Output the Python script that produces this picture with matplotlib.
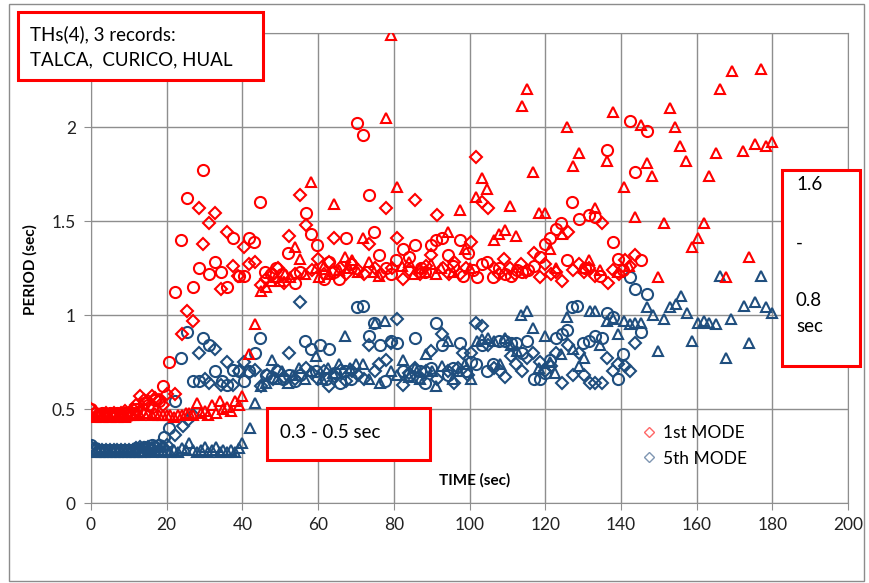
import matplotlib
matplotlib.use('Agg')
import matplotlib.pyplot as plt
from matplotlib.patches import Rectangle
from matplotlib.lines import Line2D
from matplotlib.ticker import FuncFormatter

plt.rcParams['font.family'] = ['Lato', 'DejaVu Sans']

RED = '#FF0000'
BLUE = '#1F4E7E'

# ---- datos: (tiempo [s], periodo [s]) ----
# 1er modo
red_diamond = [(0, 0.50), (1, 0.48), (2, 0.47), (3, 0.47), (4, 0.48), (5, 0.47), (6, 0.48), (7, 0.47),
               (8, 0.48), (9, 0.49), (10, 0.48), (11, 0.50), (12, 0.52), (13, 0.57), (14, 0.55), (15, 0.54),
               (16, 0.57), (17, 0.56), (18, 0.55), (19, 0.52), (20, 0.58), (22.2, 0.58), (24, 0.90),
               (25.4, 1.02), (27, 0.97), (28.5, 1.57), (29.6, 1.38), (31.2, 1.49), (32.8, 1.54), (34.3, 1.14),
               (35.9, 1.44), (37.5, 1.26), (38.8, 1.21), (40.4, 1.36), (41.7, 1.27), (43.3, 1.28), (44.9, 1.16),
               (46.2, 1.19), (48, 1.22), (49.5, 1.25), (51, 1.17), (52.3, 1.42), (53.8, 1.22), (55.2, 1.64),
               (56.8, 1.48), (58.4, 1.24), (60, 1.30), (61.5, 1.22), (62.9, 1.28), (64.2, 1.41), (65.8, 1.25),
               (67.4, 1.22), (69, 1.27), (70.5, 1.24), (72, 1.22), (73.4, 1.38), (75, 1.25), (76.5, 1.22),
               (77.9, 1.57), (79.4, 1.25), (80.8, 1.41), (82.4, 1.19), (84, 1.24), (85.5, 1.61), (87, 1.22),
               (88.4, 1.26), (89.8, 1.32), (91.4, 1.53), (93, 1.25), (94.5, 1.22), (96, 1.28), (97.5, 1.22),
               (99, 1.25), (100.4, 1.39), (101.8, 1.84), (103.3, 1.60), (104.9, 1.57), (106.4, 1.25),
               (107.8, 1.22), (109.1, 1.30), (110.6, 1.25), (112, 1.22), (113.5, 1.27), (115, 1.23),
               (117, 1.33), (118.6, 1.20), (120, 1.27), (121.5, 1.22), (122.9, 1.23), (124.4, 1.18),
               (126, 1.44), (127.3, 1.24), (128.9, 1.27), (130.2, 1.23), (131.7, 1.25), (133.2, 1.21),
               (135, 1.49), (136.5, 1.17), (138, 1.24), (139.5, 1.22), (141.1, 1.29), (142.5, 1.26), (143.7, 1.32)]

red_circle = [(0, 0.50), (1, 0.48), (2, 0.47), (3, 0.48), (4, 0.47), (5, 0.48), (6, 0.47), (7, 0.48),
              (8, 0.47), (9, 0.48), (10, 0.47), (11, 0.48), (12, 0.50), (13, 0.49), (14, 0.53), (15, 0.52),
              (16, 0.51), (17, 0.55), (18, 0.54), (19, 0.62), (20.6, 0.75), (22.2, 1.12), (23.8, 1.40),
              (25.4, 1.62), (27, 1.15), (28.5, 1.25), (29.6, 1.77), (31.2, 1.22), (32.8, 1.28), (34.3, 1.23),
              (35.9, 1.15), (37.5, 1.41), (39.1, 1.21), (40.4, 1.21), (41.7, 1.41), (43, 1.39), (44.7, 1.60),
              (46, 1.23), (47.5, 1.22), (49, 1.25), (50.5, 1.22), (52, 1.33), (53.9, 1.17), (55.2, 1.23),
              (56.8, 1.54), (58.1, 1.43), (59.7, 1.37), (61.6, 1.19), (62.9, 1.28), (64.2, 1.23), (65.5, 1.19),
              (67.4, 1.41), (68.8, 1.27), (70.3, 2.02), (71.9, 1.96), (73.4, 1.64), (74.8, 1.44), (76.1, 1.32),
              (77.9, 1.25), (79.3, 1.22), (80.6, 1.29), (82.4, 1.35), (84, 1.31), (85.6, 1.37), (87.2, 1.25),
              (88.2, 1.23), (89.8, 1.37), (91.2, 1.40), (92.7, 1.41), (94.3, 1.32), (95.7, 1.26), (97.5, 1.40),
              (98.3, 1.21), (99.5, 1.33), (100.8, 1.24), (102, 1.20), (103.3, 1.27), (104.6, 1.28),
              (106.2, 1.20), (107.8, 1.25), (109.4, 1.22), (111, 1.21), (112.5, 1.24), (113.9, 1.23),
              (115.5, 1.24), (117, 1.26), (118.6, 1.31), (119.9, 1.38), (121.3, 1.41), (122.9, 1.46),
              (124.2, 1.49), (125.8, 1.29), (127.2, 1.60), (128.9, 1.51), (130.4, 1.25), (131.6, 1.53),
              (133.2, 1.52), (134.5, 1.21), (136.3, 1.88), (137.9, 1.39), (139.2, 1.30), (140.6, 1.24),
              (142.4, 2.03), (143.7, 1.76), (145.3, 1.29), (146.9, 1.98)]

red_triangle = [(0, 0.47), (1, 0.46), (2, 0.47), (3, 0.46), (4, 0.47), (5, 0.46), (6, 0.47), (7, 0.46),
                (8, 0.47), (9, 0.46), (10, 0.47), (11, 0.47), (12, 0.48), (13, 0.47), (14, 0.48), (15, 0.48),
                (16, 0.47), (17, 0.48), (18, 0.47), (19, 0.47), (20, 0.47), (21, 0.47), (22, 0.46), (23, 0.47),
                (24, 0.47), (25, 0.48), (26, 0.48), (27, 0.47), (28, 0.53), (29, 0.48), (30, 0.49), (31, 0.47),
                (32, 0.52), (33, 0.48), (34, 0.54), (35, 0.50), (36, 0.51), (37, 0.49), (38, 0.54), (39, 0.52),
                (40, 0.57), (41.7, 0.79), (43.3, 0.95), (44.9, 1.13), (46.2, 1.15), (47.5, 1.18), (48.8, 1.20),
                (50, 1.18), (51.3, 1.22), (52.5, 1.20), (53.9, 1.36), (55.2, 1.30), (56.5, 1.22), (58.1, 1.71),
                (59.5, 1.25), (60.2, 1.20), (61.6, 1.26), (62.9, 1.22), (64.2, 1.59), (65.5, 1.24), (67, 1.31),
                (68.2, 1.25), (69, 1.29), (70.5, 1.23), (71.9, 1.41), (73.4, 1.28), (74.8, 1.23), (76.1, 1.21),
                (77.9, 2.05), (79.3, 2.49), (80.8, 1.68), (82.2, 1.26), (84, 1.28), (85.4, 1.22), (86.8, 1.25),
                (88.2, 1.23), (89.8, 1.27), (91.2, 1.22), (92.6, 1.25), (94.3, 1.44), (95.7, 1.23), (97.5, 1.56),
                (98.8, 1.35), (100.2, 1.25), (101.7, 1.63), (103.3, 1.73), (104.6, 1.67), (106.5, 1.40),
                (107.8, 1.43), (109.4, 1.45), (110.7, 1.58), (112.3, 1.42), (113.9, 2.11), (115.2, 2.20),
                (116.8, 1.76), (118.4, 1.54), (119.9, 1.54), (121.3, 1.35), (122.8, 1.25), (124.4, 1.43),
                (125.8, 2.00), (127.3, 1.79), (128.9, 1.86), (130.3, 1.25), (131.6, 1.29), (133.2, 1.57),
                (134.6, 1.24), (136.3, 1.82), (137.9, 2.08), (139.3, 1.23), (140.8, 1.68), (142.2, 1.26),
                (143.7, 1.52), (145.3, 2.01), (146.9, 1.81), (148.2, 1.74), (149.8, 1.20), (151.4, 1.49),
                (152.9, 2.10), (154.3, 2.00), (155.6, 1.90), (157.3, 1.82), (158.8, 1.36), (160.4, 1.41),
                (161.9, 1.49), (163.3, 1.74), (165.1, 1.86), (166.2, 2.20), (167.8, 1.20), (169.4, 2.30),
                (172.3, 1.87), (173.8, 1.31), (175.4, 1.91), (177, 2.31), (178.3, 1.90), (179.9, 1.92)]

# 5to modo
blue_diamond = [(0, 0.30), (1, 0.28), (2, 0.28), (3, 0.28), (4, 0.28), (5, 0.28), (6, 0.28), (7, 0.28),
                (8, 0.28), (9, 0.28), (10, 0.28), (11, 0.28), (12, 0.29), (13, 0.30), (14, 0.29), (15, 0.30),
                (16, 0.29), (17, 0.30), (18, 0.31), (19, 0.30), (20, 0.31), (22.2, 0.36), (24.3, 0.41),
                (25.6, 0.44), (27, 0.47), (28.5, 0.80), (30, 0.66), (31.2, 0.64), (32.8, 0.82), (34.3, 0.63),
                (35.9, 0.75), (37.5, 0.63), (39, 0.70), (40.4, 0.75), (41.7, 0.69), (43.3, 0.71), (44.9, 0.62),
                (46.5, 0.68), (48, 0.66), (49.5, 0.70), (51, 0.67), (52.3, 0.80), (53.8, 0.66), (55.2, 1.07),
                (56.8, 0.72), (58.4, 0.69), (60, 0.66), (61.5, 0.70), (62.9, 0.62), (64.5, 0.67), (66, 0.71),
                (67.5, 0.65), (69, 0.70), (70.5, 0.68), (72, 0.66), (73.4, 0.84), (75, 0.70), (76.1, 0.74),
                (77.9, 0.76), (79.3, 0.85), (80.8, 0.98), (82.4, 0.63), (84, 0.69), (85.6, 0.72), (87, 0.66),
                (88.5, 0.70), (89.8, 0.81), (91.4, 0.66), (92.7, 0.90), (94.3, 0.70), (95.8, 0.64), (97, 0.72),
                (98.3, 0.80), (99.7, 0.68), (100.4, 0.80), (101.7, 0.96), (103.3, 0.94), (104.9, 0.84),
                (106.4, 0.72), (108, 0.70), (109.4, 0.67), (111, 0.78), (112.3, 0.74), (113.8, 0.70),
                (115.2, 0.77), (116.8, 0.80), (118.6, 0.75), (120, 0.70), (121.5, 0.73), (122.9, 0.80),
                (124.4, 0.64), (126, 0.84), (127.3, 0.68), (128.9, 0.80), (130.2, 0.68), (131.8, 0.64),
                (133.2, 0.64), (135, 0.64), (136.3, 0.77), (137.8, 0.70), (139.2, 0.74), (141, 0.73),
                (142.4, 0.70), (143.7, 0.85)]

blue_circle = [(0, 0.31), (1, 0.29), (2, 0.28), (3, 0.28), (4, 0.28), (5, 0.28), (6, 0.28), (7, 0.28),
               (8, 0.28), (9, 0.28), (10, 0.28), (11, 0.28), (12, 0.29), (13, 0.28), (14, 0.30), (15, 0.29),
               (16, 0.31), (17, 0.30), (18, 0.31), (19.3, 0.35), (20.6, 0.40), (22.2, 0.54), (23.8, 0.77),
               (25.4, 0.91), (27, 0.65), (28.5, 0.65), (29.6, 0.88), (31.2, 0.84), (32.8, 0.70), (34.6, 0.65),
               (35.9, 0.63), (37.5, 0.71), (39.1, 0.70), (40.5, 0.65), (41.7, 0.70), (43.3, 0.80), (44.7, 0.88),
               (46.2, 0.68), (47.8, 0.67), (49.2, 0.70), (50.7, 0.66), (52.3, 0.68), (53.9, 0.65), (55.2, 0.68),
               (56.5, 0.86), (58, 0.82), (59.5, 0.70), (60.5, 0.84), (62, 0.66), (62.9, 0.82), (64.5, 0.69),
               (65.8, 0.64), (67.2, 0.70), (68.7, 0.66), (70.3, 1.04), (71.9, 1.05), (73.4, 0.89), (74.8, 0.96),
               (76.4, 0.84), (77.7, 0.65), (79.3, 0.86), (80.8, 0.85), (82.4, 0.70), (84, 0.68), (85.6, 0.88),
               (87, 0.70), (88.2, 0.64), (89.8, 0.72), (91.2, 0.96), (92.7, 0.84), (94.2, 0.68), (95.7, 0.72),
               (97.5, 0.85), (99, 0.70), (100.4, 0.75), (101.7, 0.74), (103.2, 0.84), (104.6, 0.70),
               (106.2, 0.74), (107.8, 0.86), (109.4, 0.86), (110.9, 0.85), (112.3, 0.85), (113.8, 0.80),
               (115.2, 0.86), (117, 0.66), (118.5, 0.66), (119.9, 0.69), (121.3, 0.76), (122.9, 0.88),
               (124.4, 0.90), (125.8, 0.92), (127, 1.04), (128.4, 1.05), (130, 0.85), (131.6, 0.86),
               (133.2, 0.89), (135, 0.88), (136.3, 1.01), (137.9, 0.99), (139.2, 0.66), (140.6, 0.79),
               (142.4, 1.20), (143.7, 1.14), (145.3, 0.91), (146.9, 1.11)]

blue_triangle = [(0, 0.28), (1, 0.27), (2, 0.27), (3, 0.27), (4, 0.27), (5, 0.27), (6, 0.27), (7, 0.27),
                 (8, 0.27), (9, 0.27), (10, 0.27), (11, 0.27), (12, 0.27), (13, 0.27), (14, 0.27), (15, 0.28),
                 (16, 0.27), (17, 0.28), (18, 0.28), (19, 0.27), (20, 0.28), (21, 0.27), (22, 0.28), (23, 0.27),
                 (24, 0.29), (25, 0.28), (26, 0.32), (27, 0.28), (28, 0.27), (29, 0.28), (30, 0.30), (31, 0.27),
                 (32, 0.28), (33, 0.30), (34, 0.27), (35, 0.28), (36, 0.27), (37, 0.28), (38, 0.27), (39, 0.29),
                 (40, 0.32), (42, 0.40), (43.3, 0.53), (44.9, 0.62), (46.2, 0.64), (47.8, 0.76), (49.2, 0.66),
                 (50.5, 0.70), (52, 0.64), (53.5, 0.68), (55, 0.72), (56.5, 0.66), (58, 0.70), (59.5, 0.78),
                 (61, 0.66), (62.5, 0.72), (64, 0.69), (65.5, 0.74), (67, 0.89), (68.5, 0.72), (70, 0.74),
                 (71.9, 0.74), (73.4, 0.66), (75, 0.96), (76.4, 0.64), (77.7, 0.97), (79.2, 0.70), (80.8, 0.68),
                 (82.4, 0.76), (84, 0.67), (85.5, 0.72), (87, 0.66), (88.5, 0.79), (90, 0.70), (91.2, 0.62),
                 (92.8, 0.73), (94.3, 0.86), (95.7, 0.66), (97.2, 0.70), (98.7, 0.74), (100.4, 0.66), (102, 0.86),
                 (103.4, 0.87), (104.9, 0.88), (106.5, 0.86), (108, 0.74), (109.4, 0.88), (110.9, 0.84),
                 (112.5, 0.81), (113.6, 1.00), (115.2, 1.02), (116.8, 0.93), (118.3, 0.72), (119.9, 0.89),
                 (121.3, 0.75), (122.6, 0.69), (124.2, 0.79), (125.8, 0.99), (127.4, 0.82), (128.8, 0.73),
                 (130.2, 0.77), (131.8, 1.02), (133.2, 1.02), (134.6, 0.84), (136.3, 0.97), (137.9, 0.98),
                 (139.3, 0.90), (140.8, 0.97), (142.3, 0.95), (143.7, 0.96), (145.3, 0.96), (146.9, 1.04),
                 (148.5, 1.00), (149.8, 0.81), (151.4, 0.98), (153, 1.04), (154.6, 1.06), (155.9, 1.10),
                 (157.5, 1.01), (158.8, 0.86), (160.4, 0.96), (161.9, 0.97), (163.3, 0.96), (165.1, 0.95),
                 (166.2, 1.21), (167.8, 0.77), (169.2, 0.98), (172.4, 1.05), (173.8, 0.85), (175.4, 1.07),
                 (177, 1.21), (178.3, 1.04), (179.9, 1.01)]

x_ticks = [0, 20, 40, 60, 80, 100, 120, 140, 160, 180, 200]
y_ticks = [0, 0.5, 1, 1.5, 2, 2.5]

W, H = 869, 583
fig = plt.figure(figsize=(W / 100, H / 100), dpi=100)
ax = fig.add_axes([91 / W, 1 - 503 / H, (848 - 91) / W, (503 - 33) / H])

GRID = '#8E8E8E'

# series (cada registro con su marcador)
for data, color in [(blue_diamond, BLUE), (blue_circle, BLUE), (blue_triangle, BLUE),
                    (red_diamond, RED), (red_circle, RED), (red_triangle, RED)]:
    t, y = zip(*data)
    if data in (red_diamond, blue_diamond):
        mk, ms = 'D', 6.0
    elif data in (red_circle, blue_circle):
        mk, ms = 'o', 8.0
    else:
        mk, ms = '^', 7.0
    ax.plot(t, y, ls='none', marker=mk, ms=ms, mfc='none', mec=color, mew=1.5, zorder=3)

ax.set_xlim(0, 200)
ax.set_ylim(0, 2.5)
ax.set_xticks(x_ticks)
ax.set_yticks(y_ticks)
# la etiqueta 2.5 queda tapada por el cuadro de texto en el original
ax.yaxis.set_major_formatter(FuncFormatter(lambda v, p: '' if v > 2.4 else f'{v:g}'))
ax.grid(True, color=GRID, lw=1.0)
ax.set_axisbelow(True)
for s in ax.spines.values():
    s.set_color(GRID)
ax.tick_params(direction='out', length=5, color=GRID, labelsize=12.5, labelcolor='#222222')
ax.tick_params(axis='x', pad=5)
ax.tick_params(axis='y', pad=6)

# titulos de ejes
fig.text(30 / W, 1 - 270 / H, 'PERIOD (sec)', rotation=90, fontsize=11, fontweight='bold',
         ha='center', va='center')
fig.text(475 / W, 1 - 480 / H, 'TIME (sec)', fontsize=11, fontweight='bold', ha='center', va='center')

# leyenda
handles = [Line2D([], [], ls='none', marker='D', ms=5, mfc='none', mec='#FF6666', mew=1.0),
           Line2D([], [], ls='none', marker='D', ms=5, mfc='none', mec='#7F96B2', mew=1.0)]
fig.legend(handles, ['1st MODE', '5th MODE'], loc='upper left', bbox_to_anchor=(642 / W, 1 - 425 / H),
           frameon=False, fontsize=12.5, handlelength=0.8, handletextpad=0.4, labelspacing=0.55,
           borderpad=0, borderaxespad=0)


def red_box(x0, y0, x1, y1):
    fig.patches.append(Rectangle((x0 / W, 1 - y1 / H), (x1 - x0) / W, (y1 - y0) / H,
                                 transform=fig.transFigure, fc='white', ec='#FF0000', lw=2.2, zorder=5))


# marco exterior del grafico
fig.patches.append(Rectangle((9 / W, 1 - 581 / H), (864 - 9) / W, (581 - 4) / H, transform=fig.transFigure,
                             fc='none', ec='#8C8C8C', lw=1.0, zorder=1))

red_box(18, 12, 263, 80)
fig.text(30 / W, 1 - 34 / H, 'THs(4), 3 records:', fontsize=13.5, va='center', zorder=6)
fig.text(30 / W, 1 - 60 / H, 'TALCA,  CURICO, HUAL', fontsize=13.5, va='center', zorder=6)

red_box(267, 408, 430, 460)
fig.text(280 / W, 1 - 433 / H, '0.3 - 0.5 sec', fontsize=13.5, va='center', zorder=6)

red_box(782, 170, 860, 366)
for txt, yy in [('1.6', 185), ('-', 243), ('0.8', 300), ('sec', 327)]:
    fig.text(796 / W, 1 - yy / H, txt, fontsize=13.5, va='center', zorder=6)

fig.savefig('out.png', dpi=100)
